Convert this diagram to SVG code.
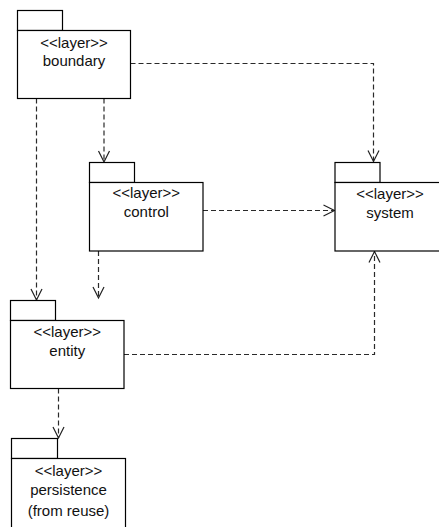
<svg xmlns="http://www.w3.org/2000/svg" width="439" height="527" viewBox="0 0 439 527">
  <defs>
    <!-- open "V" arrowhead for dependency lines -->
    <marker id="open-arrow" markerWidth="14" markerHeight="14" viewBox="-12 -7 14 14" refX="0" refY="0" orient="auto" markerUnits="userSpaceOnUse">
      <path d="M -11 -5.5 L 0 0 L -11 5.5" fill="none" stroke="#222" stroke-width="1.2"/>
    </marker>
  </defs>
  <style>
    .pkg { fill: #ffffff; stroke: #000000; stroke-width: 1.2; }
    .lbl { font-family: "Liberation Sans", Arial, sans-serif; font-size: 15px; fill: #111111; text-anchor: middle; }
    .dep { fill: none; stroke: #2a2a2a; stroke-width: 1.2; stroke-dasharray: 5 3; marker-end: url(#open-arrow); }
  </style>

  <rect width="439" height="527" fill="#ffffff"/>

  <!-- dependency connectors -->
  <g id="connectors">
    <path class="dep" d="M 130.5 63.5 H 373.5 V 161.5"/>
    <path class="dep" d="M 104 98.5 V 162"/>
    <path class="dep" d="M 36.5 98.5 V 300"/>
    <path class="dep" d="M 203 210.5 H 334.5"/>
    <path class="dep" d="M 98.5 251 V 298"/>
    <path class="dep" d="M 124 354.5 H 374.5 V 251.5"/>
    <path class="dep" d="M 58.5 388.5 V 438"/>
  </g>

  <!-- boundary layer -->
  <g id="boundary">
    <rect class="pkg" x="17.5" y="10.5" width="45" height="20"/>
    <rect class="pkg" x="17.5" y="30.5" width="113" height="68"/>
    <text class="lbl" x="74" y="47.5">&lt;&lt;layer&gt;&gt;</text>
    <text class="lbl" x="74" y="65.5">boundary</text>
  </g>

  <!-- control layer -->
  <g id="control">
    <rect class="pkg" x="89.5" y="162.5" width="45" height="20"/>
    <rect class="pkg" x="89.5" y="182.5" width="113.5" height="68.5"/>
    <text class="lbl" x="146.3" y="198">&lt;&lt;layer&gt;&gt;</text>
    <text class="lbl" x="146.3" y="217">control</text>
  </g>

  <!-- system layer -->
  <g id="system">
    <rect class="pkg" x="335" y="162.5" width="45" height="20"/>
    <rect class="pkg" x="335" y="182.5" width="110" height="68.5"/>
    <text class="lbl" x="390" y="199">&lt;&lt;layer&gt;&gt;</text>
    <text class="lbl" x="390" y="217.5">system</text>
  </g>

  <!-- entity layer -->
  <g id="entity">
    <rect class="pkg" x="10.5" y="300.5" width="45" height="20"/>
    <rect class="pkg" x="10.5" y="320.5" width="113.5" height="68"/>
    <text class="lbl" x="67.3" y="336.5">&lt;&lt;layer&gt;&gt;</text>
    <text class="lbl" x="67.3" y="355.5">entity</text>
  </g>

  <!-- persistence layer (from reuse) -->
  <g id="persistence">
    <rect class="pkg" x="11.5" y="438.5" width="46" height="20"/>
    <rect class="pkg" x="11.5" y="458.5" width="114" height="80"/>
    <text class="lbl" x="68.5" y="476">&lt;&lt;layer&gt;&gt;</text>
    <text class="lbl" x="68.5" y="494.5">persistence</text>
    <text class="lbl" x="68.5" y="516">(from reuse)</text>
  </g>
</svg>
